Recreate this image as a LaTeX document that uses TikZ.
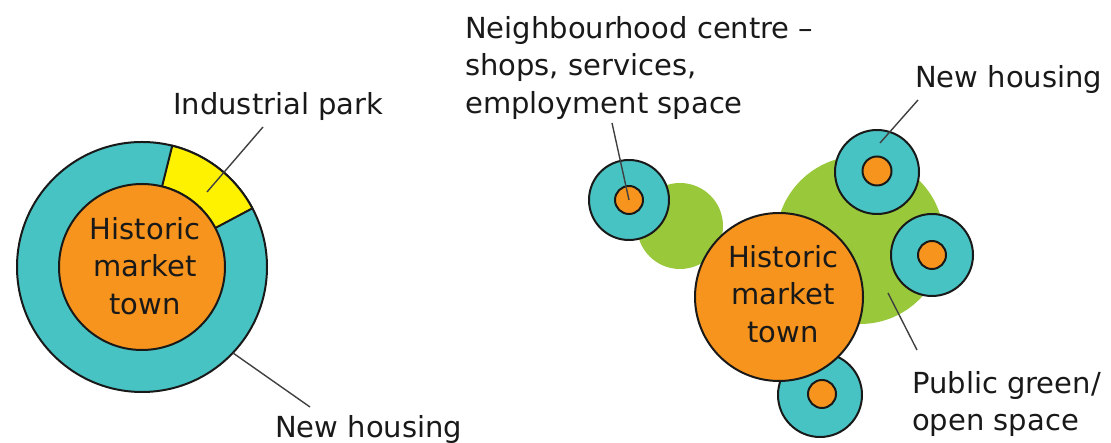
\documentclass[tikz,border=0pt]{standalone}
\usepackage{fontspec}
\setmainfont{DejaVu Sans}
\usetikzlibrary{calc}
\definecolor{housing}{HTML}{48C3C4}
\definecolor{town}{HTML}{F7941D}
\definecolor{park}{HTML}{FFF200}
\definecolor{openspace}{HTML}{9AC83B}

\begin{document}
\begin{tikzpicture}[x=1pt, y=1pt,
    every node/.style={font=\fontsize{29}{37.5}\selectfont, text=black!90},
    disc/.style={circle, draw=black!90, line width=2pt, inner sep=0pt, outer sep=0pt},
    blob/.style={circle, fill=openspace, inner sep=0pt, outer sep=0pt},
    tag/.style={inner sep=0pt},
    leader/.style={draw=black!75, line width=1.4pt}]
    \useasboundingbox (0,0) rectangle (1111,443);

    % Left: old town with a ring of new housing
    \node[disc, fill=housing, minimum size=250pt] (lring) at (142,176) {};
    \draw[disc, fill=park] (lring.28) arc[start angle=28, end angle=76, radius=125]
        -- ($(lring.center)+(76:83)$) arc[start angle=76, end angle=28, radius=83] -- cycle;
    \node[disc, fill=town, minimum size=166pt] (lcore) at (142,176) {};
    \node[tag, align=center] (ltown) at (145,177) {Historic\\market\\town};

    \node[tag, anchor=base west] (parklbl) at (173,328) {Industrial park};
    \node[tag, anchor=base west] (lnewlbl) at (275,5) {New housing};
    \coordinate (parktop) at (263,316);
    \coordinate (parkend) at (207,251);
    \coordinate (lnewtop) at (233,90);
    \coordinate (lnewend) at (310,36);
    \draw[leader] (parktop) -- (parkend);
    \draw[leader] (lnewtop) -- (lnewend);

    % Right: old town with satellite neighbourhoods
    \node[blob, minimum size=86pt] (gsmall) at (680,217) {};
    \node[blob, minimum size=168pt] (gbig) at (860,203) {};

    \node[disc, fill=housing, minimum size=80pt] (hoodring) at (629,243) {};
    \node[disc, fill=town, minimum size=28pt] (hooddot) at (629,243) {};
    \node[disc, fill=housing, minimum size=84pt] (nring) at (877,271) {};
    \node[disc, fill=town, minimum size=29pt] (ndot) at (877,272) {};
    \node[disc, fill=housing, minimum size=82pt] (ering) at (932,188) {};
    \node[disc, fill=town, minimum size=28pt] (edot) at (932,188) {};
    \node[disc, fill=housing, minimum size=84pt] (sring) at (820,48) {};
    \node[disc, fill=town, minimum size=28pt] (sdot) at (822,49) {};

    \node[disc, fill=town, minimum size=168pt] (rcore) at (779,146) {};
    \node[tag, align=center] (rtown) at (783,149) {Historic\\market\\town};

    \node[tag, anchor=north west, align=left] (hoodlbl) at (465,427)
        {Neighbourhood centre --\\shops, services,\\employment space};
    \node[tag, anchor=base west] (rnewlbl) at (915,355) {New housing};
    \node[tag, anchor=north west, align=left] (greenlbl) at (912,72)
        {Public green/\\open space};

    \coordinate (hoodtop) at (612,320);
    \coordinate (rnewtop) at (918,343);
    \coordinate (rnewend) at (880,300);
    \coordinate (greentop) at (888,150);
    \coordinate (greenend) at (917,93);
    \draw[leader] (hoodtop) -- (hooddot.center);
    \draw[leader] (rnewtop) -- (rnewend);
    \draw[leader] (greentop) -- (greenend);
\end{tikzpicture}
\end{document}
